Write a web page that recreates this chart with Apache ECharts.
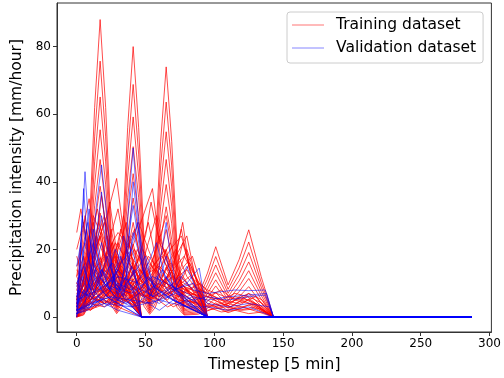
<!DOCTYPE html>
<html>
<head>
<meta charset="utf-8">
<script src="https://cdn.jsdelivr.net/npm/echarts@6/dist/echarts.min.js"></script>
<style>html,body{margin:0;padding:0;background:#fff}#c{width:504px;height:378px}</style>
</head>
<body>
<div id="c"></div>
<script>
// ---- data: each event as flat [t, value, t, value, ...] (timestep, mm/hour) ----
const seriesLength = 288;               // 24 h of 5-min steps, zero padded
const xTickLabels = [0, 50, 100, 150, 200, 250, 300];
const yTickLabels = [0, 20, 40, 60, 80];

// training: family of one multi-peak storm at different intensities
const trainFamily1  = [0,0, 5,4, 9,25, 13,62, 17,88, 21,62, 25,25, 29,7, 33,22, 37,56, 41,80, 45,56, 49,22, 53,6, 57,20, 61,52, 65,74, 69,52, 73,20, 78,4, 88,6, 95,13, 101,20.8, 110,9.5, 118,17, 125,25.8, 134,12, 143,0];
const trainFamily2  = [0,0, 5,3.4, 9,21.5, 13,53.3, 17,75.7, 21,53.3, 25,21.5, 29,6.0, 33,18.9, 37,48.2, 41,68.8, 45,48.2, 49,18.9, 53,5.2, 57,17.2, 61,44.7, 65,63.6, 69,44.7, 73,17.2, 78,3.4, 88,5.2, 95,11.2, 101,17.9, 110,8.2, 118,14.6, 125,22.2, 134,10.3, 143,0];
const trainFamily3  = [0,0, 5,3.0, 9,18.5, 13,45.9, 17,65.1, 21,45.9, 25,18.5, 29,5.2, 33,16.3, 37,41.4, 41,59.2, 45,41.4, 49,16.3, 53,4.4, 57,14.8, 61,38.5, 65,54.8, 69,38.5, 73,14.8, 78,3.0, 88,4.4, 95,9.6, 101,15.4, 110,7.0, 118,12.6, 125,19.1, 134,8.9, 143,0];
const trainFamily4  = [0,0, 5,2.5, 9,15.8, 13,39.1, 17,55.4, 21,39.1, 25,15.8, 29,4.4, 33,13.9, 37,35.3, 41,50.4, 45,35.3, 49,13.9, 53,3.8, 57,12.6, 61,32.8, 65,46.6, 69,32.8, 73,12.6, 78,2.5, 88,3.8, 95,8.2, 101,13.1, 110,6.0, 118,10.7, 125,16.3, 134,7.6, 143,0];
const trainFamily5  = [0,0, 5,2.1, 9,13.3, 13,32.9, 17,46.6, 21,32.9, 25,13.3, 29,3.7, 33,11.7, 37,29.7, 41,42.4, 45,29.7, 49,11.7, 53,3.2, 57,10.6, 61,27.6, 65,39.2, 69,27.6, 73,10.6, 78,2.1, 88,3.2, 95,6.9, 101,11.0, 110,5.0, 118,9.0, 125,13.7, 134,6.4, 143,0];
const trainFamily6  = [0,0, 5,1.8, 9,11.0, 13,27.3, 17,38.7, 21,27.3, 25,11.0, 29,3.1, 33,9.7, 37,24.6, 41,35.2, 45,24.6, 49,9.7, 53,2.6, 57,8.8, 61,22.9, 65,32.6, 69,22.9, 73,8.8, 78,1.8, 88,2.6, 95,5.7, 101,9.2, 110,4.2, 118,7.5, 125,11.4, 134,5.3, 143,0];
const trainFamily7  = [0,0, 5,1.4, 9,8.8, 13,21.7, 17,30.8, 21,21.7, 25,8.8, 29,2.5, 33,7.7, 37,19.6, 41,28.0, 45,19.6, 49,7.7, 53,2.1, 57,7.0, 61,18.2, 65,25.9, 69,18.2, 73,7.0, 78,1.4, 88,2.1, 95,4.6, 101,7.3, 110,3.3, 118,6.0, 125,9.0, 134,4.2, 143,0];
const trainFamily8  = [0,0, 5,1.1, 9,6.8, 13,16.7, 17,23.8, 21,16.7, 25,6.8, 29,1.9, 33,5.9, 37,15.1, 41,21.6, 45,15.1, 49,5.9, 53,1.6, 57,5.4, 61,14.0, 65,20.0, 69,14.0, 73,5.4, 78,1.1, 88,1.6, 95,3.5, 101,5.6, 110,2.6, 118,4.6, 125,7.0, 134,3.2, 143,0];
const trainFamily9  = [0,0, 5,0.8, 9,5.0, 13,12.4, 17,17.6, 21,12.4, 25,5.0, 29,1.4, 33,4.4, 37,11.2, 41,16.0, 45,11.2, 49,4.4, 53,1.2, 57,4.0, 61,10.4, 65,14.8, 69,10.4, 73,4.0, 78,0.8, 88,1.2, 95,2.6, 101,4.2, 110,1.9, 118,3.4, 125,5.2, 134,2.4, 143,0];
const trainFamily10 = [0,0, 5,0.6, 9,3.5, 13,8.7, 17,12.3, 21,8.7, 25,3.5, 29,1.0, 33,3.1, 37,7.8, 41,11.2, 45,7.8, 49,3.1, 53,0.8, 57,2.8, 61,7.3, 65,10.4, 69,7.3, 73,2.8, 78,0.6, 88,0.8, 95,1.8, 101,2.9, 110,1.3, 118,2.4, 125,3.6, 134,1.7, 143,0];

// training: other events
const trainOther = [
  [0,6, 8,15, 15,22, 22,30, 29,41, 34,25, 40,12, 47,0],
  [0,12, 4,25, 9,35, 14,20, 20,28, 26,15, 33,10, 40,6, 47,0],
  [0,3, 6,18, 12,30, 18,24, 24,12, 30,18, 36,8, 42,4, 47,0],
  [0,20, 5,28, 10,15, 16,10, 22,18, 28,8, 36,5, 47,0],
  [0,2, 10,8, 18,36, 24,18, 32,12, 40,5, 47,0],
  [0,10, 8,5, 15,12, 22,6, 30,14, 38,22, 44,8, 47,0],
  [0,1, 5,10, 12,16, 20,8, 28,4, 36,10, 42,3, 47,0],
  [0,25, 3,32, 8,20, 14,12, 20,7, 30,3, 47,0],
  [0,4, 10,12, 20,18, 30,25, 40,20, 50,32, 55,38, 60,22, 70,15, 77,28, 82,14, 90,6, 95,0],
  [0,8, 8,20, 15,14, 25,10, 35,18, 45,28, 52,20, 60,12, 70,8, 80,20, 88,10, 95,0],
  [0,2, 12,6, 22,10, 32,14, 42,8, 52,16, 62,12, 72,20, 80,12, 88,8, 95,0],
  [0,15, 6,22, 12,10, 20,6, 30,12, 40,9, 50,6, 60,10, 70,5, 80,8, 95,0],
  [0,5, 6,30, 10,18, 18,12, 28,22, 38,16, 48,10, 58,6, 68,14, 78,9, 88,4, 95,0],
  [0,3, 10,6, 20,4, 30,8, 40,12, 50,24, 54,34, 58,26, 64,16, 72,10, 80,6, 95,0],
  [0,1, 8,4, 16,9, 24,14, 30,22, 36,16, 44,10, 52,18, 60,14, 68,20, 76,24, 82,16, 90,8, 95,0],
  [0,9, 6,14, 14,24, 20,18, 28,12, 36,20, 46,14, 56,8, 66,12, 76,6, 86,4, 95,0],
  [0,2, 6,5, 14,8, 22,12, 30,9, 40,6, 50,10, 60,8, 70,14, 78,18, 86,12, 95,6, 105,5, 115,7, 125,6, 135,4, 143,0],
  [0,4, 12,7, 24,10, 36,8, 48,12, 60,15, 72,10, 84,8, 95,6, 105,8, 115,5, 125,7, 135,5, 143,0],
  [0,1, 15,3, 30,6, 45,4, 60,8, 75,5, 90,4, 100,3, 110,4, 120,3, 130,4, 143,0],
  [0,6, 10,10, 20,7, 30,12, 40,10, 50,6, 60,9, 70,12, 80,8, 90,10, 100,5, 112,3, 124,6, 136,2, 143,0],
  [0,0, 5,12, 10,26, 15,18, 20,10, 28,14, 36,6, 47,0],
  [0,18, 4,12, 10,22, 16,14, 24,20, 30,10, 38,6, 47,0],
  [0,2, 8,16, 14,10, 22,24, 28,16, 34,30, 40,18, 46,9, 52,5, 60,12, 70,8, 80,4, 95,0],
  [0,7, 10,3, 20,9, 30,5, 40,15, 48,10, 58,20, 65,30, 70,18, 76,10, 84,6, 95,0],
  [0,3, 12,10, 22,6, 32,16, 42,26, 48,14, 56,8, 66,5, 76,12, 86,7, 95,0],
  [0,1, 4,4, 10,2, 18,6, 26,3, 36,8, 46,4, 56,6, 66,3, 76,5, 86,2, 95,0],
  [0,10, 6,6, 14,3, 24,8, 34,5, 44,3, 47,0],
  [0,4, 6,20, 12,28, 18,16, 26,22, 32,12, 40,7, 47,0],
  [0,2, 15,5, 30,9, 45,14, 58,10, 70,8, 82,12, 95,8, 108,6, 120,5, 132,3, 143,0],
  [0,3, 10,2, 20,5, 30,3, 40,6, 50,4, 60,7, 70,3, 80,5, 95,3, 105,4, 118,2, 130,3, 143,0],
  [0,12, 5,18, 12,8, 20,14, 30,9, 42,20, 50,13, 62,18, 70,11, 80,14, 88,9, 95,0],
  [0,5, 8,12, 16,28, 22,20, 30,32, 35,20, 42,14, 50,9, 58,14, 66,8, 76,4, 95,0],
  [0,0, 3,8, 8,14, 14,22, 20,30, 26,20, 32,12, 38,8, 47,0],
  [0,2, 10,4, 20,3, 30,6, 40,4, 50,8, 60,5, 70,10, 77,22, 84,12, 90,5, 95,0],
  [0,6, 20,8, 40,6, 60,9, 70,14, 76,26, 82,14, 88,7, 95,0],
  [0,3, 4,14, 9,8, 14,20, 19,12, 25,26, 31,14, 37,9, 43,16, 47,0],
  [0,0, 6,6, 12,18, 18,10, 24,6, 30,20, 36,28, 42,12, 47,0],
  [0,8, 5,4, 11,16, 17,24, 23,10, 29,6, 35,14, 41,8, 47,0],
  [0,2, 3,18, 7,26, 11,12, 17,6, 23,10, 29,4, 35,6, 47,0],
  [0,5, 9,22, 15,32, 20,20, 27,9, 33,5, 39,12, 45,6, 47,0],
  [0,14, 6,9, 12,5, 18,16, 24,34, 28,22, 34,10, 40,5, 47,0],
  [0,1, 10,5, 20,12, 28,18, 36,10, 44,20, 52,12, 60,24, 66,16, 74,9, 82,16, 90,9, 95,0],
  [0,4, 8,9, 18,6, 28,10, 38,24, 44,16, 52,28, 58,16, 66,10, 74,6, 84,10, 95,0],
  [0,6, 12,14, 20,10, 30,16, 40,12, 48,20, 56,14, 64,10, 72,18, 80,24, 86,12, 95,0],
  [0,10, 6,16, 14,12, 24,6, 34,10, 44,6, 54,14, 64,20, 70,12, 78,8, 88,5, 95,0],
  [0,3, 10,8, 20,14, 30,10, 40,6, 50,10, 60,16, 68,22, 74,14, 82,9, 90,4, 95,0],
  [0,2, 8,10, 16,6, 26,12, 36,8, 46,14, 56,10, 66,6, 76,14, 84,18, 90,10, 95,0],
  [0,1, 6,3, 12,6, 20,4, 30,8, 40,5, 50,9, 60,6, 70,9, 80,6, 90,8, 100,6, 110,4, 120,6, 132,3, 143,0],
  [0,3, 14,6, 28,5, 42,9, 56,6, 70,10, 84,7, 95,5, 105,3, 115,5, 125,4, 135,2, 143,0],
  [0,2, 10,5, 22,8, 34,6, 46,10, 58,7, 70,12, 82,9, 95,4, 108,2, 120,3, 132,1.5, 143,0],
  [0,5, 6,12, 12,8, 18,14, 24,10, 32,6, 40,9, 47,0],
  [0,0, 4,6, 9,13, 14,8, 20,16, 26,10, 34,14, 40,6, 47,0],
  [0,12, 4,8, 8,18, 12,10, 18,7, 26,12, 34,18, 40,10, 47,0],
  [0,4, 10,18, 16,12, 22,8, 32,26, 38,16, 44,10, 52,22, 58,30, 64,18, 72,10, 80,5, 95,0],
  [0,7, 6,4, 16,10, 26,22, 30,14, 38,8, 48,14, 58,9, 68,16, 76,10, 86,6, 95,0],
  [0,2, 10,6, 20,4, 35,8, 50,6, 65,10, 80,7, 95,6, 105,4, 115,6, 125,5, 135,3, 143,0],
  [0,1, 12,3, 24,7, 36,5, 48,9, 60,6, 72,8, 84,5, 95,2, 108,3, 120,2, 132,2.5, 143,0],
  [0,4, 8,8, 16,5, 26,10, 38,7, 50,12, 62,8, 74,6, 86,9, 95,7, 106,5, 118,4, 130,6, 143,0],
  [0,3, 15,5, 30,4, 45,7, 60,5, 75,9, 88,6, 95,3, 105,1.5, 115,2, 125,1, 135,1.5, 143,0]
];

// validation events
const validEvents = [
  [0,2, 3,20, 6,43, 9,25, 13,12, 18,8, 25,5, 35,3, 47,0],
  [0,1, 6,4, 11,15, 14,32, 18,45, 22,30, 26,12, 30,6, 35,15, 38,35, 41,50, 44,33, 48,14, 53,6, 58,10, 62,20, 65,28, 68,18, 73,8, 80,5, 95,0],
  [0,2, 8,8, 13,20, 18,37, 23,20, 29,8, 36,12, 41,40, 46,22, 52,8, 60,10, 65,18, 70,9, 80,4, 95,0],
  [0,3, 10,10, 18,30, 25,14, 32,8, 41,33, 48,14, 55,6, 65,12, 75,6, 85,3, 95,0],
  [0,10, 5,15, 10,8, 18,22, 26,10, 34,6, 41,25, 50,12, 60,8, 70,5, 95,0],
  [0,4, 4,30, 8,18, 14,10, 22,6, 30,4, 47,0],
  [0,1, 10,3, 20,6, 30,10, 40,8, 50,14, 58,22, 64,12, 72,8, 80,10, 89,14.5, 93,5, 95,0],
  [0,5, 15,8, 30,12, 45,10, 55,6, 65,8, 75,12, 85,8, 95,7, 105,7.5, 115,8, 125,7.8, 137,8, 143,0],
  [0,2, 12,5, 25,9, 40,7, 55,12, 70,9, 85,6, 95,5, 110,6, 125,6.5, 138,7, 143,0],
  [0,1, 10,4, 25,6, 40,5, 55,4, 70,8, 85,10, 95,4, 110,3, 125,4, 140,3, 143,0],
  [0,15, 3,22, 7,12, 12,6, 18,14, 24,8, 30,5, 38,10, 44,4, 47,0],
  [0,6, 6,10, 12,26, 17,16, 24,8, 32,18, 38,10, 44,6, 47,0],
  [0,1, 8,2, 16,6, 24,4, 32,9, 40,15, 46,8, 52,4, 60,2, 70,5, 80,3, 95,0],
  [0,3, 5,8, 10,5, 20,10, 30,7, 40,12, 50,18, 56,9, 66,6, 76,4, 95,0],
  [0,0, 2,12, 5,38, 8,20, 12,8, 20,4, 30,2, 47,0],
  [0,8, 10,6, 20,3, 30,5, 40,3, 50,6, 60,4, 70,7, 80,15, 86,9, 95,0],
  [0,4, 14,14, 20,10, 28,20, 36,14, 44,28, 50,16, 56,9, 65,6, 80,3, 95,0],
  [0,3, 6,14, 12,22, 18,12, 26,16, 34,8, 42,14, 47,0],
  [0,6, 4,12, 10,6, 16,10, 22,18, 28,10, 36,6, 44,3, 47,0],
  [0,1, 8,6, 16,12, 24,8, 32,16, 40,20, 46,12, 54,8, 62,14, 70,8, 80,6, 88,4, 95,0],
  [0,2, 10,4, 20,8, 30,14, 38,10, 48,6, 58,12, 66,8, 74,4, 84,6, 95,0],
  [0,9, 3,14, 8,28, 12,16, 18,8, 26,12, 34,6, 47,0],
  [0,2, 12,4, 24,6, 36,4, 48,8, 60,5, 72,7, 84,5, 95,6, 110,5, 125,6, 137,6.5, 143,0],
  [0,0, 5,20, 9,32, 13,18, 20,10, 28,6, 38,4, 47,0],
  [0,4, 8,8, 18,14, 26,10, 34,24, 40,14, 46,8, 52,12, 60,6, 70,9, 80,5, 95,0],
  [0,2, 20,4, 40,3, 60,5, 80,3, 95,3, 110,2, 125,3, 143,0]
];

const trainingEvents = [trainFamily1, trainFamily2, trainFamily3, trainFamily4, trainFamily5,
  trainFamily6, trainFamily7, trainFamily8, trainFamily9, trainFamily10].concat(trainOther);

function toPairs(flat) {
  const pts = [];
  for (let i = 0; i < flat.length; i += 2) pts.push([flat[i], flat[i + 1]]);
  if (pts[pts.length - 1][0] < seriesLength - 1) pts.push([seriesLength - 1, 0]);
  return pts;
}

const RED = 'rgba(255,0,0,0.7)';
const BLUE = 'rgba(0,0,255,0.55)';
const series = [];
trainingEvents.forEach(ev => series.push({
  name: 'Training dataset', type: 'line', data: toPairs(ev), symbol: 'none',
  lineStyle: { width: 1, color: RED }, itemStyle: { color: RED }, silent: true
}));
validEvents.forEach(ev => series.push({
  name: 'Validation dataset', type: 'line', data: toPairs(ev), symbol: 'none',
  lineStyle: { width: 1, color: BLUE }, itemStyle: { color: BLUE }, silent: true
}));

const FONT = 'DejaVu Sans';
const chart = echarts.init(document.getElementById('c'), null, { renderer: 'canvas' });
chart.setOption({
  animation: false,
  backgroundColor: '#fff',
  grid: { left: 57, right: 7, top: 3, bottom: 45, show: true, borderColor: '#333', borderWidth: 1, backgroundColor: 'transparent' },
  legend: {
    left: 287, top: 12, orient: 'vertical',
    padding: [5, 7, 7, 5], itemGap: 7,
    itemWidth: 32, itemHeight: 1.2,
    borderColor: '#ccc', borderWidth: 1, borderRadius: 3, backgroundColor: 'rgba(255,255,255,0.8)',
    textStyle: { fontFamily: FONT, fontSize: 15.5, color: '#000', lineHeight: 16, padding: [0, 0, 0, 7] },
    data: [
      { name: 'Training dataset', icon: 'rect', itemStyle: { color: 'rgba(255,0,0,0.45)' } },
      { name: 'Validation dataset', icon: 'rect', itemStyle: { color: 'rgba(0,0,255,0.4)' } }
    ],
    selectedMode: false
  },
  xAxis: {
    type: 'value', min: -14.35, max: 301.35,
    name: 'Timestep [5 min]', nameLocation: 'middle', nameGap: 25,
    nameTextStyle: { fontFamily: FONT, fontSize: 15.5, color: '#000' },
    splitLine: { show: false },
    axisLine: { show: true, onZero: false, lineStyle: { color: '#333', width: 1 } },
    axisTick: { show: true, length: 4, lineStyle: { color: '#333' }, customValues: xTickLabels },
    axisLabel: { fontFamily: FONT, fontSize: 12, color: '#000', margin: 6, customValues: xTickLabels }
  },
  yAxis: {
    type: 'value', min: -4.43, max: 92.9,
    name: 'Precipitation intensity [mm/hour]', nameLocation: 'middle', nameGap: 29,
    nameTextStyle: { fontFamily: FONT, fontSize: 15.5, color: '#000' },
    splitLine: { show: false },
    axisLine: { show: true, onZero: false, lineStyle: { color: '#333', width: 1 } },
    axisTick: { show: true, length: 4, lineStyle: { color: '#333' }, customValues: yTickLabels },
    axisLabel: { fontFamily: FONT, fontSize: 12, color: '#000', margin: 6, customValues: yTickLabels }
  },
  series: series
});
</script>
</body>
</html>
